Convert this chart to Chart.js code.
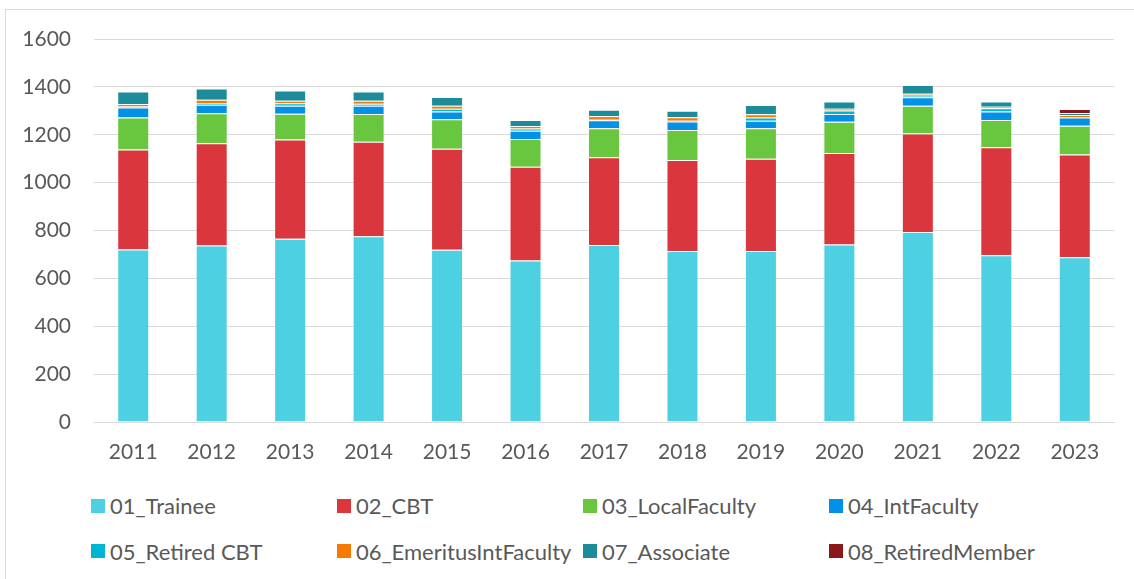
<!DOCTYPE html>
<html>
<head>
<meta charset="utf-8">
<script src="https://cdn.jsdelivr.net/npm/chart.js@4.4.1/dist/chart.umd.min.js"></script>
<style>
  body { margin: 0; background: #fff; }
  #wrap { position: relative; width: 1134px; height: 579px; overflow: hidden; font-family: Lato, sans-serif; }
  #frame { position: absolute; left: 5px; top: 9px; width: 1140px; height: 600px; border: 1px solid #d9d9d9; box-sizing: border-box; }
  #chartBox { position: absolute; left: 0; top: 0; width: 1134px; height: 480px; }
  .item { position: absolute; height: 24px; display: flex; align-items: center; font-size: 22px; color: #595959; white-space: nowrap; }
  .item span.box { display: inline-block; width: 14px; height: 14px; margin-right: 5px; }
</style>
</head>
<body>
<div id="wrap">
  <div id="frame"></div>
  <div id="chartBox"><canvas id="grafico"></canvas></div>
  <div id="legenda"></div>
</div>
<script>
const anos = ['2011', '2012', '2013', '2014', '2015', '2016', '2017', '2018', '2019', '2020', '2021', '2022', '2023'];
const ticksY = [0, 200, 400, 600, 800, 1000, 1200, 1400, 1600];

const trainee = [721, 737, 766, 776, 720, 675, 739, 714, 714, 741, 794, 697, 688];
const cbt = [417, 427, 414, 395, 422, 391, 367, 380, 386, 383, 411, 451, 430];
const localFaculty = [134, 126, 108, 116, 123, 116, 121, 126, 127, 130, 116, 114, 120];
const intFaculty = [42, 35, 33, 34, 32, 35, 34, 35, 32, 33, 36, 35, 34];
const retiredCbt = [4, 8, 11, 8, 12, 9, 5, 4, 13, 14, 6, 14, 0];
const emeritus = [10, 13, 10, 13, 12, 11, 12, 14, 14, 8, 8, 6, 11];
const associate = [53, 47, 43, 39, 37, 25, 26, 27, 38, 30, 37, 22, 8];
const retiredMember = [0, 0, 0, 0, 0, 0, 0, 0, 0, 0, 0, 0, 17];

const series = [
  { label: '01_Trainee', data: trainee, cor: '#4dd0e1' },
  { label: '02_CBT', data: cbt, cor: '#d9363e' },
  { label: '03_LocalFaculty', data: localFaculty, cor: '#68c73f' },
  { label: '04_IntFaculty', data: intFaculty, cor: '#0391e6' },
  { label: '05_Retired CBT', data: retiredCbt, cor: '#00b4d4' },
  { label: '06_EmeritusIntFaculty', data: emeritus, cor: '#f47b00' },
  { label: '07_Associate', data: associate, cor: '#1d8c9a' },
  { label: '08_RetiredMember', data: retiredMember, cor: '#8a181b' },
];

function desenhaLegenda(chart) {
  const div = document.getElementById('legenda');
  div.innerHTML = '';
  chart.data.datasets.forEach((ds, i) => {
    const item = document.createElement('div');
    item.className = 'item';
    item.style.left = (91 + (i % 4) * 246) + 'px';
    item.style.top = (i < 4 ? 493.5 : 539) + 'px';
    const box = document.createElement('span');
    box.className = 'box';
    box.style.background = ds.backgroundColor;
    const txt = document.createElement('span');
    txt.innerText = ds.label;
    item.append(box, txt);
    div.append(item);
  });
}

const ctx = document.getElementById('grafico').getContext('2d');
const grafico = new Chart(ctx, {
  type: 'bar',
  data: {
    labels: anos,
    datasets: series.map(s => ({
      label: s.label,
      data: s.data,
      backgroundColor: s.cor,
      borderColor: 'rgba(255,255,255,0.35)',
      borderWidth: 1,
      borderSkipped: 'bottom',
      categoryPercentage: 1,
      barPercentage: 0.408,
    })),
  },
  options: {
    responsive: true,
    maintainAspectRatio: false,
    animation: false,
    layout: { padding: { top: 39, right: 20, left: 0, bottom: 0 } },
    plugins: {
      legend: { display: false },
      tooltip: { enabled: false },
    },
    scales: {
      x: {
        stacked: true,
        afterFit: s => { s.height = 58; },
        grid: { display: false, drawTicks: false },
        border: { display: true, color: '#d9d9d9', width: 1 },
        ticks: { color: '#595959', font: { family: 'Lato', size: 21 }, padding: 18, maxRotation: 0 },
      },
      y: {
        stacked: true,
        min: 0,
        max: 1600,
        afterFit: s => { s.width = 94; },
        afterBuildTicks: s => { s.ticks = ticksY.map(v => ({ value: v })); },
        grid: { color: '#d9d9d9', lineWidth: 1, drawTicks: false },
        border: { display: false },
        ticks: {
          color: '#595959',
          font: { family: 'Lato', size: 21 },
          padding: 23,
          callback: v => String(v),
        },
      },
    },
  },
});

desenhaLegenda(grafico);
</script>
</body>
</html>
